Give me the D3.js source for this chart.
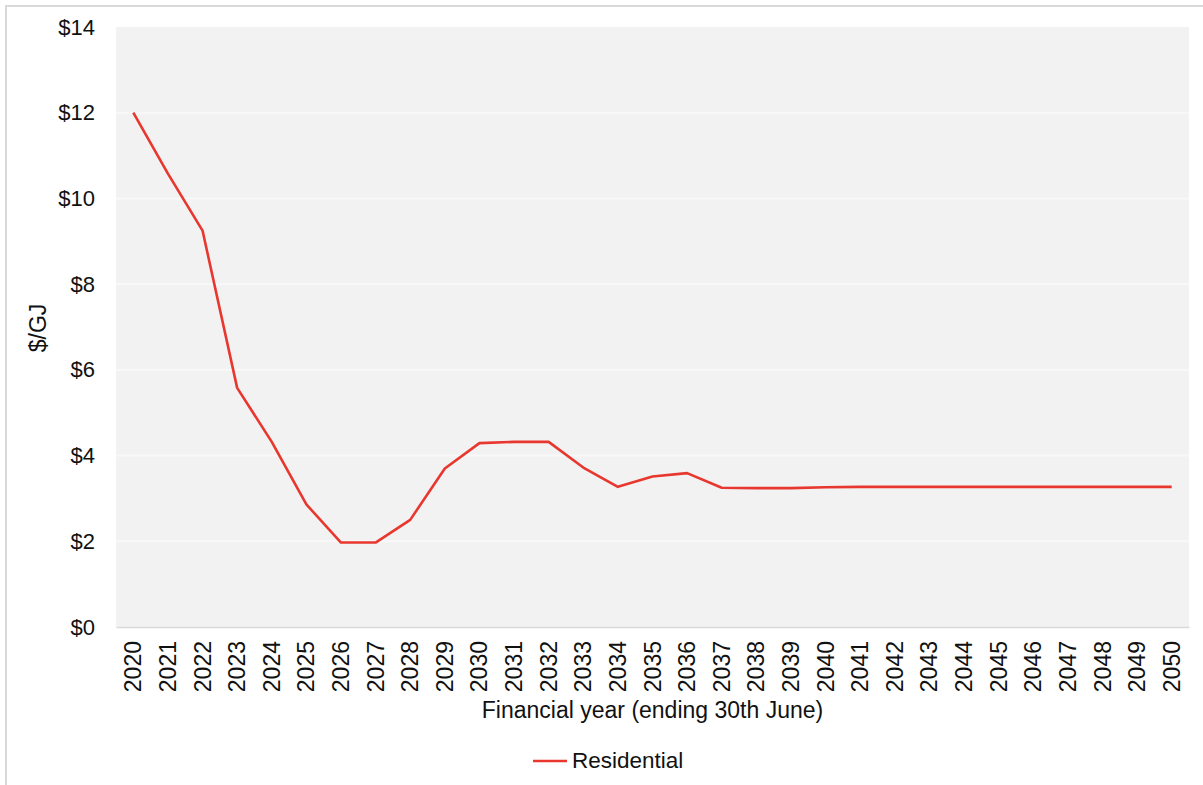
<!DOCTYPE html>
<html>
<head>
<meta charset="utf-8">
<script src="https://cdn.jsdelivr.net/npm/d3@7"></script>
<style>
  body { margin: 0; background: #fff; }
  svg text { font-family: "Liberation Sans", Arial, sans-serif; fill: #111; }
</style>
</head>
<body>
<script>
// financial years and residential price ($/GJ)
const years = d3.range(2020, 2051).map(String)
const residential = [12.0, 10.58, 9.25, 5.58, 4.32, 2.86, 1.97, 1.97, 2.5, 3.7,
  4.29, 4.32, 4.32, 3.72, 3.27, 3.51, 3.59, 3.25, 3.24, 3.24,
  3.26, 3.27, 3.27, 3.27, 3.27, 3.27, 3.27, 3.27, 3.27, 3.27, 3.27]
const yTicks = [0, 2, 4, 6, 8, 10, 12, 14]

const W = 1203, H = 785
const m = {top: 27, right: 14, bottom: 158, left: 116}

const svg = d3.select("body").append("svg")
    .attr("width", W).attr("height", H)

// outer frame (top + left edges only visible)
svg.append("path")
    .attr("d", "M6,785 V6 H1203")
    .attr("fill", "none").attr("stroke", "#d9d9d9").attr("stroke-width", 2)

const x = d3.scaleBand().domain(years).range([m.left, W - m.right])
const y = d3.scaleLinear().domain([0, 14]).range([H - m.bottom, m.top])

svg.append("rect")
    .attr("x", m.left).attr("y", m.top)
    .attr("width", W - m.right - m.left).attr("height", H - m.bottom - m.top)
    .attr("fill", "#f2f2f2")

// gridlines
svg.append("g").selectAll("line")
    .data(yTicks.filter(d => d > 0 && d < 14))
    .enter().append("line")
    .attr("x1", m.left).attr("x2", W - m.right)
    .attr("y1", d => y(d)).attr("y2", d => y(d))
    .attr("stroke", "#f8f8f8").attr("stroke-width", 2)

// y axis
const yAxis = svg.append("g")
    .attr("transform", `translate(${m.left},0)`)
    .call(d3.axisLeft(y).tickValues(yTicks).tickFormat(d => "$" + d).tickSize(0).tickPadding(21))
yAxis.select(".domain").remove()
yAxis.selectAll("text").style("font-size", "22px")

// x axis
const xAxis = svg.append("g")
    .attr("transform", `translate(0,${H - m.bottom})`)
    .call(d3.axisBottom(x).tickSize(0))
xAxis.select(".domain").attr("stroke", "#d9d9d9").attr("stroke-width", 1.5)
xAxis.selectAll("text")
    .style("font-size", "23px")
    .attr("text-anchor", "end")
    .attr("transform", "rotate(-90)")
    .attr("x", -14).attr("y", 0).attr("dy", "0.35em")

// line
const line = d3.line()
    .x((d, i) => x(years[i]) + x.bandwidth() / 2)
    .y(d => y(d))

svg.append("path")
    .datum(residential)
    .attr("d", line)
    .attr("fill", "none")
    .attr("stroke", "#e8372e")
    .attr("stroke-width", 2.6)
    .attr("stroke-linejoin", "round")

// titles
svg.append("text")
    .attr("x", (m.left + W - m.right) / 2).attr("y", 718)
    .attr("text-anchor", "middle")
    .style("font-size", "23px")
    .text("Financial year (ending 30th June)")

svg.append("text")
    .attr("transform", "translate(46,328) rotate(-90)")
    .attr("text-anchor", "middle")
    .style("font-size", "23px")
    .text("$/GJ")

// legend
svg.append("line")
    .attr("x1", 533).attr("x2", 567).attr("y1", 761).attr("y2", 761)
    .attr("stroke", "#e8372e").attr("stroke-width", 2.6)
svg.append("text")
    .attr("x", 572).attr("y", 768)
    .style("font-size", "22.5px")
    .text("Residential")
</script>
</body>
</html>
